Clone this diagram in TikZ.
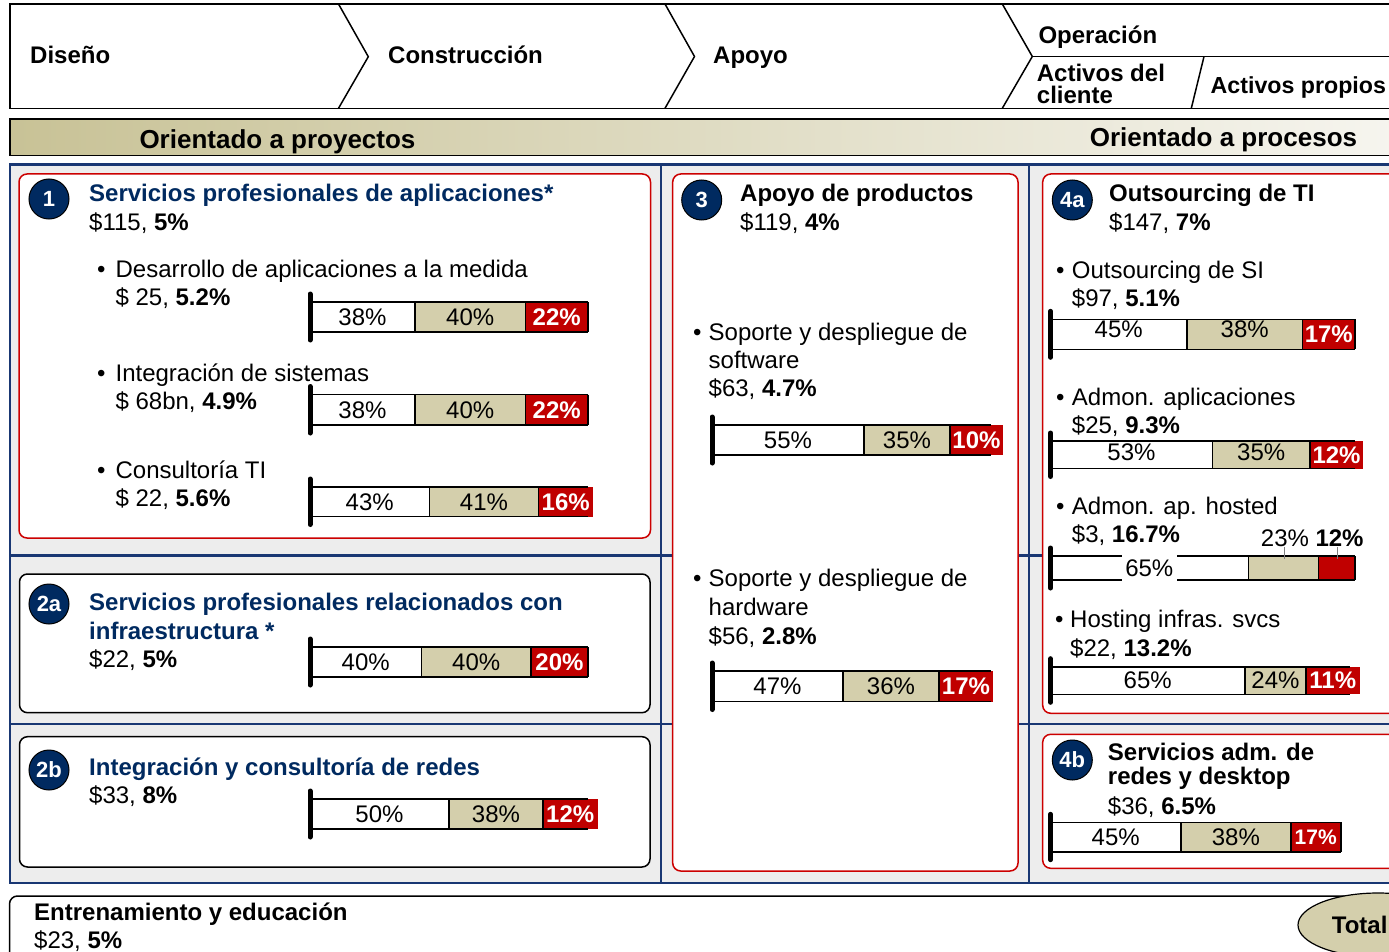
\documentclass[tikz,border=0pt]{standalone}
\usepackage{fontspec}
\setmainfont{Liberation Sans}
\usetikzlibrary{shapes.geometric}
\definecolor{navy}{RGB}{0,42,96}
\definecolor{gridblue}{RGB}{25,55,115}
\definecolor{tanc}{RGB}{212,207,172}
\definecolor{tanL}{RGB}{200,194,150}
\definecolor{tanR}{RGB}{246,245,239}
\definecolor{redc}{RGB}{192,0,0}
\definecolor{boxred}{RGB}{204,0,0}
\definecolor{grayfill}{RGB}{237,237,237}
\tikzset{
  txt/.style={anchor=base west, inner sep=0pt, font=\fontsize{24}{28}\selectfont},
  btxt/.style={anchor=base west, inner sep=0pt, font=\fontsize{24}{28}\selectfont\bfseries},
  ntxt/.style={btxt, text=navy},
  bul/.style={anchor=base west, inner sep=0pt, font=\fontsize{24}{28}\selectfont},
  num/.style={circle, fill=navy, draw=black, line width=1pt, minimum size=40pt, inner sep=0pt, text=white, font=\fontsize{22}{22}\selectfont\bfseries},
  seg/.style={inner sep=0pt, font=\fontsize{24}{24}\selectfont},
  rseg/.style={inner sep=0pt, text=white, font=\fontsize{24}{24}\selectfont\bfseries},
  redbox/.style={draw=boxred, line width=1.5pt, fill=white, rounded corners=8pt},
  blkbox/.style={draw=black, line width=1.5pt, fill=white, rounded corners=8pt},
  gridline/.style={draw=gridblue, line width=2.5pt},
  hdr/.style={draw=black, line width=1.5pt},
  barl/.style={draw=black, line width=1.6pt},
  tickl/.style={draw=black, line width=5pt, line cap=round},
}
\newcommand{\mybar}[8]{%
  \fill[white] (#2,#7) rectangle (#3,#8);
  \fill[tanc] (#3,#7) rectangle (#4,#8);
  \fill[redc] (#4,#7) rectangle (#5,#8);
  \draw[barl] (#2,#7) -- (#6,#7) (#2,#8) -- (#6,#8) (#3,#7) -- (#3,#8) (#4,#7) -- (#4,#8);
  \ifdim #6pt<#5pt\relax\else\draw[barl] (#6,#7) -- (#6,#8);\fi
  \draw[tickl] (#2,{#7-8}) -- (#2,{#8+8});
  \coordinate (#1-a) at ({(#2+#3)/2},{(#7+#8)/2});
  \coordinate (#1-b) at ({(#3+#4)/2},{(#7+#8)/2});
  \coordinate (#1-c) at ({(#4+#5)/2},{(#7+#8)/2});
}
\newcommand{\mylabels}[5][0]{%
  \node[seg, yshift=#1pt] (#2-la) at (#2-a) {#3};
  \node[seg, yshift=#1pt] (#2-lb) at (#2-b) {#4};
  \node[rseg] (#2-lc) at (#2-c) {#5};
}
\begin{document}
\begin{tikzpicture}[x=1pt,y=-1pt]
\path[use as bounding box] (0,0) rectangle (1389,952);
\clip (0,0) rectangle (1389,952);
\fill[white] (0,0) rectangle (1389,952);
% header
\draw[hdr] (10,4) rectangle (1400,108.3);
\draw[hdr] (338.5,4) -- (368.3,56.7) -- (338.5,108.3);
\draw[hdr] (665,4) -- (694.5,56.5) -- (665,108.3);
\draw[hdr] (1002.3,4) -- (1032.3,56.5) -- (1002.3,108.3);
\draw[hdr] (1032.3,56.5) -- (1400,56.5);
\draw[hdr] (1204,56.5) -- (1191.3,108.3);
\node[btxt] (h1) at (30,63.3) {Diseño};
\node[btxt] (h2) at (388,63.3) {Construcción};
\node[btxt] (h3) at (713,63.3) {Apoyo};
\node[btxt] (h4) at (1038.3,43.3) {Operación};
\node[btxt] (h5) at (1036.7,81.7) {Activos del};
\node[btxt] (h6) at (1036.7,103.3) {cliente};
\node[anchor=base west, inner sep=0pt, font=\fontsize{23.2}{28}\selectfont\bfseries] (h7) at (1210.5,93.3) {Activos propios};
% orientation bar
\shade[left color=tanL, right color=tanR] (10,119) rectangle (1400,155.7);
\draw[hdr] (10,119) rectangle (1400,155.7);
\node[anchor=base west, inner sep=0pt, font=\fontsize{26}{28}\selectfont\bfseries] (o1) at (139.3,148.3) {Orientado a proyectos};
\node[anchor=base east, inner sep=0pt, font=\fontsize{26}{28}\selectfont\bfseries] (o2) at (1357.3,146.7) {Orientado a procesos};
% grid
\fill[grayfill] (10,164.5) rectangle (1400,883);
\draw[gridline] (10,164.5) rectangle (1400,883);
\draw[gridline] (661,164.5) -- (661,883);
\draw[gridline] (1029,164.5) -- (1029,883);
\draw[gridline] (10,555.5) -- (1400,555.5);
\draw[gridline] (10,724) -- (1400,724);
% boxes
\draw[redbox] (19,174) rectangle (650.5,538);
\draw[blkbox] (19.5,574) rectangle (650,712.7);
\draw[blkbox] (19.5,736.7) rectangle (650,867);
\draw[redbox] (672.7,174) rectangle (1018,871);
\draw[redbox] (1042.7,174) rectangle (1420,713.3);
\draw[redbox] (1042.7,734.3) rectangle (1420,868.3);
% box 1
\node[num] (c1) at (49,199) {1};
\node[ntxt] (t1) at (89,202) {Servicios profesionales de aplicaciones*};
\node[txt] (t1v) at (89,230.5) {\$115, \textbf{5\%}};
\node[bul] (t1b1) at (97,277) {•};
\node[txt] (t1i1) at (115.4,277) {Desarrollo de aplicaciones a la medida};
\node[txt] (t1v1) at (115.4,305) {\$ 25, \textbf{5.2\%}};
\node[bul] (t1b2) at (97,381) {•};
\node[txt] (t1i2) at (115.4,381) {Integración de sistemas};
\node[txt] (t1v2) at (115.4,409) {\$ 68bn, \textbf{4.9\%}};
\node[bul] (t1b3) at (97,478) {•};
\node[txt] (t1i3) at (115.4,478) {Consultoría TI};
\node[txt] (t1v3) at (115.4,506.5) {\$ 22, \textbf{5.6\%}};
\mybar{b1}{310}{415}{525.5}{588}{588}{302}{332}
\mylabels{b1}{38\%}{40\%}{22\%}
\mybar{b2}{310}{415}{525.5}{588}{588}{394.5}{425}
\mylabels{b2}{38\%}{40\%}{22\%}
\mybar{b3}{310}{429.5}{538.5}{593}{588}{487}{516.5}
\mylabels{b3}{43\%}{41\%}{16\%}
% box 2a
\node[num] (c2a) at (49,604) {2a};
\node[ntxt] (t2a1) at (89,610.7) {Servicios profesionales relacionados con};
\node[ntxt] (t2a2) at (89,639) {infraestructura *};
\node[txt] (t2av) at (89,667.7) {\$22, \textbf{5\%}};
\mybar{b4}{310}{421.5}{531}{588}{588}{647}{677}
\mylabels{b4}{40\%}{40\%}{20\%}
% box 2b
\node[num] (c2b) at (49,770) {2b};
\node[ntxt] (t2b1) at (89,775) {Integración y consultoría de redes};
\node[txt] (t2bv) at (89,803) {\$33, \textbf{8\%}};
\mybar{b5}{310}{449}{543}{597.5}{588}{799}{829}
\mylabels{b5}{50\%}{38\%}{12\%}
% box 3
\node[num] (c3) at (701.7,200) {3};
\node[btxt] (t3) at (740,201.7) {Apoyo de productos};
\node[txt] (t3v) at (740,230.7) {\$119, \textbf{4\%}};
\node[bul] (t3b1) at (693,340) {•};
\node[txt] (t3i1) at (708.5,340) {Soporte y despliegue de};
\node[txt] (t3i1b) at (708.5,368.3) {software};
\node[txt] (t3v1) at (708.5,396.7) {\$63, \textbf{4.7\%}};
\mybar{b6}{712}{864}{950}{1003}{991}{425}{455}
\mylabels{b6}{55\%}{35\%}{10\%}
\node[bul] (t3b2) at (693,586.7) {•};
\node[txt] (t3i2) at (708.5,586.7) {Soporte y despliegue de};
\node[txt] (t3i2b) at (708.5,615) {hardware};
\node[txt] (t3v2) at (708.5,644) {\$56, \textbf{2.8\%}};
\mybar{b7}{712}{843}{939}{993}{991}{671}{701.5}
\mylabels{b7}{47\%}{36\%}{17\%}
% box 4a
\node[num] (c4a) at (1072.3,200) {4a};
\node[btxt] (t4a) at (1109,201.7) {Outsourcing de TI};
\node[txt] (t4av) at (1109,230) {\$147, \textbf{7\%}};
\node[bul] (t4b1) at (1056,278.3) {•};
\node[txt] (t4i1) at (1071.7,278.3) {Outsourcing de SI};
\node[txt] (t4v1) at (1071.7,306.7) {\$97, \textbf{5.1\%}};
\mybar{b8}{1050.5}{1187}{1302.5}{1355}{1355}{319.3}{349.3}
\mylabels[5]{b8}{45\%}{38\%}{17\%}
\node[bul] (t4b2) at (1056,405) {•};
\node[txt] (t4i2) at (1071.7,405) {Admon. aplicaciones};
\node[txt] (t4v2) at (1071.7,433.3) {\$25, \textbf{9.3\%}};
\mybar{b9}{1050.5}{1212.5}{1310}{1363}{1355}{441}{468.5}
\mylabels[3]{b9}{53\%}{35\%}{12\%}
\node[bul] (t4b3) at (1056,514) {•};
\node[txt] (t4i3) at (1071.7,514) {Admon. ap. hosted};
\node[txt] (t4v3) at (1071.7,542.7) {\$3, \textbf{16.7\%}};
\mybar{b10}{1050.5}{1248.3}{1318.3}{1355}{1355}{556}{580}
\node[seg, fill=white, minimum width=55pt, minimum height=28pt] (b10-la) at (1149.3,568) {65\%};
\node[seg, anchor=base] (b10-lb) at (1285,546.7) {23\%};
\node[seg, anchor=base, font=\fontsize{24}{24}\selectfont\bfseries] (b10-lc) at (1339.5,546.7) {12\%};
\coordinate (b10-tb) at (1284.3,559);
\coordinate (b10-tc) at (1337.3,559);
\draw[gray, line width=0.7pt] (b10-lb.south -| b10-tb) -- (b10-tb);
\draw[gray, line width=0.7pt] (b10-lc.south -| b10-tc) -- (b10-tc);
\node[bul] (t4b4) at (1055,627.3) {•};
\node[txt] (t4i4) at (1070,627.3) {Hosting infras. svcs};
\node[txt] (t4v4) at (1070,656) {\$22, \textbf{13.2\%}};
\mybar{b11}{1050.5}{1245}{1306}{1359.5}{1349.5}{666.7}{694.3}
\mylabels{b11}{65\%}{24\%}{11\%}
% box 4b
\node[num] (c4b) at (1072.3,760) {4b};
\node[btxt] (t4b1t) at (1107.7,760) {Servicios adm. de};
\node[btxt] (t4b2t) at (1107.7,784) {redes y desktop};
\node[txt] (t4bv) at (1107.7,814) {\$36, \textbf{6.5\%}};
\mybar{b12}{1050.5}{1181}{1290.7}{1340.7}{1340.7}{822.3}{851.7}
\node[seg] (b12-la) at (b12-a) {45\%};
\node[seg] (b12-lb) at (b12-b) {38\%};
\node[rseg, font=\fontsize{21}{21}\selectfont\bfseries] (b12-lc) at (b12-c) {17\%};
% bottom
\draw[blkbox] (9.5,896) rectangle (1420,1000);
\node[btxt] (te) at (34,920) {Entrenamiento y educación};
\node[txt] (tev) at (34,948) {\$23, \textbf{5\%}};
\node[ellipse, draw=black, line width=1.2pt, fill=tanc, minimum width=160pt, minimum height=64pt, inner sep=0pt] (tot) at (1378,925) {};
\node[btxt] (tott) at (1331.7,933) {Total};
\end{tikzpicture}
\end{document}
